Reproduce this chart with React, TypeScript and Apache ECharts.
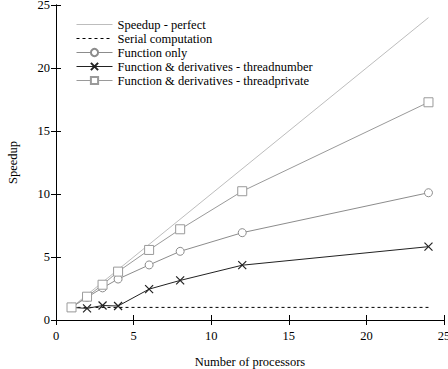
import React, { useEffect, useRef } from "react";
import * as echarts from "echarts";

const processors = [1, 2, 3, 4, 6, 8, 12, 24];
const perfectX = [1, 24];
const perfectY = [1, 24];
const serialX = [1, 24];
const serialY = [1, 1];
const functionOnly = [1, 1.8, 2.55, 3.25, 4.37, 5.45, 6.93, 10.1];
const threadNumber = [1, 0.92, 1.15, 1.11, 2.45, 3.14, 4.35, 5.82];
const threadPrivate = [1, 1.85, 2.8, 3.84, 5.56, 7.2, 10.22, 17.28];
const xTicks = [0, 25, 5];
const yTicks = [0, 25, 5];

const FONT = "Liberation Serif";
const zip = (xs: number[], ys: number[]) => xs.map((x, i) => [x, ys[i]]);

export default function App() {
  const ref = useRef<HTMLDivElement>(null);
  useEffect(() => {
    document.body.style.margin = "0";
    const chart = echarts.init(ref.current!, null, { renderer: "svg" });
    const axisCommon = {
      type: "value" as const,
      axisLine: { show: true, lineStyle: { color: "#000", width: 1 } },
      axisTick: { show: true, inside: true, length: 5, lineStyle: { color: "#000" } },
      splitLine: { show: false },
    };
    const txt = { fontFamily: FONT, fontSize: 12.5, color: "#000" };
    chart.setOption({
      animation: false,
      backgroundColor: "#fff",
      textStyle: { fontFamily: FONT },
      grid: { left: 56, right: 4, top: 5, bottom: 49, containLabel: false, outerBoundsMode: "none" },
      legend: {
        orient: "vertical",
        left: 71,
        top: 13,
        itemWidth: 36,
        itemHeight: 9,
        itemGap: 1,
        lineStyle: { width: 1 },
        textStyle: txt,
        data: [
          { name: "Speedup - perfect", itemStyle: { opacity: 0 } },
          { name: "Serial computation", itemStyle: { opacity: 0 } },
          { name: "Function only" },
          { name: "Function & derivatives - threadnumber" },
          { name: "Function & derivatives - threadprivate" },
        ],
      },
      xAxis: [
        {
          ...axisCommon,
          min: xTicks[0],
          max: xTicks[1],
          interval: xTicks[2],
          position: "bottom",
          name: "Number of processors",
          nameLocation: "middle",
          nameGap: 35,
          nameTextStyle: txt,
          axisLabel: { ...txt, margin: 9 },
        },
        {
          ...axisCommon,
          min: xTicks[0],
          max: xTicks[1],
          interval: xTicks[2],
          position: "top",
          axisLabel: { show: false },
        },
      ],
      yAxis: [
        {
          ...axisCommon,
          min: yTicks[0],
          max: yTicks[1],
          interval: yTicks[2],
          position: "left",
          name: "Speedup",
          nameLocation: "middle",
          nameGap: 37,
          nameTextStyle: txt,
          axisLabel: { ...txt, margin: 6 },
        },
        {
          ...axisCommon,
          min: yTicks[0],
          max: yTicks[1],
          interval: yTicks[2],
          position: "right",
          axisLabel: { show: false },
        },
      ],
      series: [
        {
          name: "Speedup - perfect",
          type: "line",
          data: zip(perfectX, perfectY),
          showSymbol: false,
          symbol: "none",
          lineStyle: { color: "#bdbdbd", width: 1 },
          itemStyle: { color: "#bdbdbd" },
        },
        {
          name: "Serial computation",
          type: "line",
          data: zip(serialX, serialY),
          showSymbol: false,
          symbol: "none",
          lineStyle: { color: "#000", width: 1, type: [3, 3] },
          itemStyle: { color: "#000" },
        },
        {
          name: "Function only",
          type: "line",
          data: zip(processors, functionOnly),
          symbol: "circle",
          symbolSize: 8,
          lineStyle: { color: "#8c8c8c", width: 1 },
          itemStyle: { color: "#fff", borderColor: "#8c8c8c", borderWidth: 1 },
        },
        {
          name: "Function & derivatives - threadnumber",
          type: "line",
          data: zip(processors, threadNumber),
          symbol: "path://M0,0L10,10M10,0L0,10",
          symbolSize: 8,
          lineStyle: { color: "#222", width: 1 },
          itemStyle: { color: "none", borderColor: "#222", borderWidth: 1.2 },
        },
        {
          name: "Function & derivatives - threadprivate",
          type: "line",
          data: zip(processors, threadPrivate),
          symbol: "rect",
          symbolSize: 9,
          lineStyle: { color: "#9a9a9a", width: 1 },
          itemStyle: { color: "#fff", borderColor: "#9a9a9a", borderWidth: 1 },
        },
      ],
    });
    return () => chart.dispose();
  }, []);
  return <div ref={ref} style={{ width: 448, height: 369 }} />;
}
